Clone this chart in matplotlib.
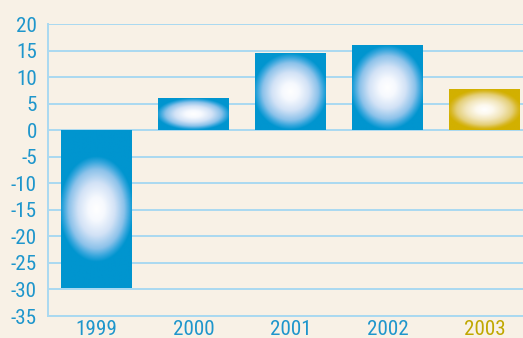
import matplotlib.pyplot as plt
import numpy as np
from matplotlib import font_manager
from matplotlib.colors import LinearSegmentedColormap

years = ["1999", "2000", "2001", "2002", "2003"]
values = [-29.7, 6.0, 14.5, 16.0, 7.7]
bar_colors = ["#0095cf", "#0095cf", "#0095cf", "#0095cf", "#d2b000"]
label_colors = ["#1e96cc", "#1e96cc", "#1e96cc", "#1e96cc", "#c0a800"]
yticks = list(range(-35, 25, 5))

bg = "#f8f1e6"
grid_col = "#a9d9f1"

names = {f.name for f in font_manager.fontManager.ttflist}
family = next((n for n in ["Roboto Condensed", "Liberation Sans Narrow", "Roboto"]
               if n in names), "DejaVu Sans")
plt.rcParams["font.family"] = [family, "DejaVu Sans"]

# colour ramps from the bright middle of a bar out to its edge
ramps = {
    "#0095cf": LinearSegmentedColormap.from_list(
        "blue_glow", [(0, "#ffffff"), (0.22, "#f6f9fe"), (0.5, "#d2e2f6"),
                      (0.75, "#8cc2ea"), (0.9, "#32a5dc"), (1.0, "#0095cf")]),
    "#d2b000": LinearSegmentedColormap.from_list(
        "gold_glow", [(0, "#ffffff"), (0.22, "#fdf9ee"), (0.5, "#f2e6bc"),
                      (0.75, "#e4cf78"), (0.9, "#d8b826"), (1.0, "#d2b000")]),
}


def glow(color, w_px, h_px):
    """radial white glow in the middle of a bar, fading to the bar colour"""
    n = 160
    xx, yy = np.meshgrid(np.linspace(-1, 1, n), np.linspace(-1, 1, n))
    rx = 1.05
    ry = min(1.0, 0.75 * w_px / (h_px / 2))
    r = np.sqrt((xx / rx) ** 2 + (yy / ry) ** 2)
    return ramps[color](np.clip(r, 0, 1))


fig = plt.figure(figsize=(5.23, 3.38), dpi=100, facecolor=bg)
ax = fig.add_axes([48 / 523, 22 / 338, 1 - 48 / 523, (316 - 24) / 338])
ax.set_facecolor(bg)

x = np.arange(len(years))
bars = ax.bar(x, values, width=0.73, color=bar_colors, zorder=2)

ax.set_ylim(-35, 20)
ax.set_xlim(-0.5, 4.397)

# gradient fill on each bar
for b, c in zip(bars, bar_colors):
    x0, w = b.get_x(), b.get_width()
    y0, h = b.get_y(), b.get_height()
    lo, hi = min(y0, y0 + h), max(y0, y0 + h)
    p0 = ax.transData.transform((x0, lo))
    p1 = ax.transData.transform((x0 + w, hi))
    img = glow(c, p1[0] - p0[0], p1[1] - p0[1])
    ax.imshow(img, extent=(x0, x0 + w, lo, hi),
              aspect="auto", interpolation="bilinear", zorder=3)

ax.set_xlim(-0.5, 4.397)
ax.set_ylim(-35, 20)

ax.set_yticks(yticks)
ax.set_yticklabels([str(v) for v in yticks])
ax.yaxis.grid(True, color=grid_col, linewidth=1.4, zorder=0)
ax.set_axisbelow(True)

ax.set_xticks(x)
ax.set_xticklabels(years)
for lab, c in zip(ax.get_xticklabels(), label_colors):
    lab.set_color(c)

ax.tick_params(axis="both", length=0, labelsize=15.2)
ax.tick_params(axis="y", pad=8, colors="#1e96cc")
ax.tick_params(axis="x", pad=3)

for s in ["top", "right"]:
    ax.spines[s].set_visible(False)
for s in ["left", "bottom"]:
    ax.spines[s].set_color(grid_col)
    ax.spines[s].set_linewidth(1.4)

fig.savefig("out.png", dpi=100, facecolor=bg)
